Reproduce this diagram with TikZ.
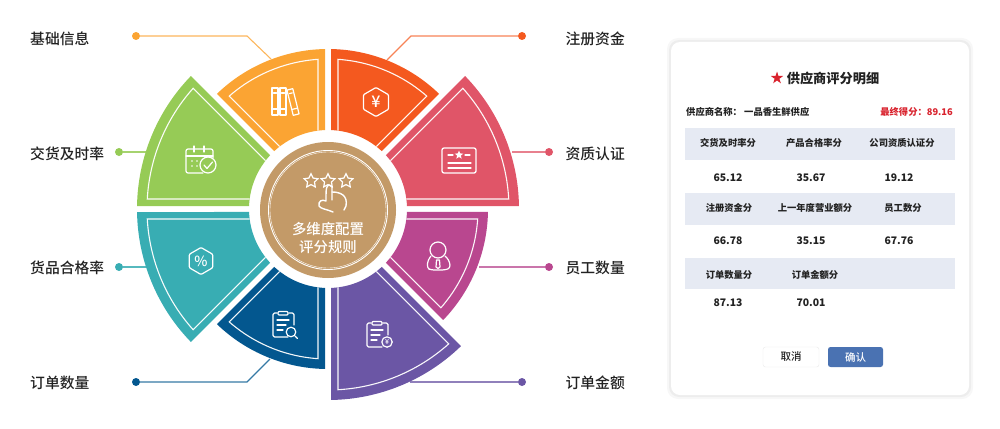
\documentclass[tikz,border=0pt]{standalone}
\usepackage{fontspec}
\setmainfont{Noto Sans CJK SC}
\newfontfamily\medfont{Noto Sans CJK SC Medium}
\usetikzlibrary{shapes.geometric}
\definecolor{cOrange}{HTML}{FBA433}
\definecolor{cFlame}{HTML}{F4591F}
\definecolor{cRed}{HTML}{E05568}
\definecolor{cMagenta}{HTML}{B9478F}
\definecolor{cPurple}{HTML}{6B56A5}
\definecolor{cNavy}{HTML}{03578F}
\definecolor{cTeal}{HTML}{38ADB3}
\definecolor{cGreen}{HTML}{96CB56}
\definecolor{cTan}{HTML}{C39A68}
\definecolor{cBand}{HTML}{E6EAF3}
\definecolor{cInk}{HTML}{222222}
\definecolor{cBtn}{HTML}{4A72B2}
\definecolor{cScore}{HTML}{D9232E}
\newcommand{\petal}[3]{%
 \begin{scope}[shift={(328,209)}]
 \pgfmathsetmacro\pTo{asin(3/#2)}
 \pgfmathsetmacro\pTi{asin(3/79)}
 \pgfmathsetmacro\pLo{asin(10/(#2-10))}
 \pgfmathsetmacro\pLi{asin(10/79)}
 \pgfmathsetmacro\pR{#2-10}
 \pgfmathsetmacro\pAa{#1+\pTo}\pgfmathsetmacro\pAb{#1+45-\pTo}
 \pgfmathsetmacro\pBa{#1+\pTi}\pgfmathsetmacro\pBb{#1+45-\pTi}
 \pgfmathsetmacro\pCa{#1+\pLo}\pgfmathsetmacro\pCb{#1+45-\pLo}
 \pgfmathsetmacro\pDa{#1+\pLi}\pgfmathsetmacro\pDb{#1+45-\pLi}
 \fill[#3] (\pAa:#2pt) arc[start angle=\pAa,end angle=\pAb,radius=#2pt] -- (\pBb:79pt) arc[start angle=\pBb,end angle=\pBa,radius=79pt] -- cycle;
 \draw[white!95!#3,line width=1.1pt] (\pDa:79pt) -- (\pCa:\pR pt) arc[start angle=\pCa,end angle=\pCb,radius=\pR pt] -- (\pDb:79pt);
 \end{scope}}
\tikzset{
 lbl/.style={font=\fontsize{14.8}{16}\selectfont\medfont,text=cInk,inner sep=0pt},
 dotnode/.style={circle,inner sep=0pt,minimum size=8pt},
 conn/.style={line width=1.1pt},
 icon/.style={draw=white,line width=1.2pt,line join=round,line cap=round},
 hd/.style={font=\fontsize{9.3}{11}\selectfont\bfseries,text=cInk,inner sep=0pt},
 val/.style={font=\fontsize{10.4}{12}\selectfont\bfseries,text=cInk,inner sep=0pt},
 band/.style={fill=cBand},
 hubtxt/.style={font=\fontsize{14.4}{16}\selectfont\medfont,text=white,inner sep=0pt},
 staro/.style={star,star points=5,star point ratio=2.0,draw=white,line width=1.2pt,inner sep=0pt,minimum size=#1},
 hexo/.style={regular polygon,regular polygon sides=6,shape border rotate=30,draw=white,line width=1.2pt,inner sep=0pt,rounded corners=1pt,minimum size=#1},
}
\begin{document}
\begin{tikzpicture}[x=1pt,y=-1pt]
\useasboundingbox (0,0) rectangle (1000,428);
% connectors
\node[dotnode,fill=cOrange] (d1) at (136,36) {};
\node[dotnode,fill=cFlame] (d2) at (522,36) {};
\node[dotnode,fill=cGreen] (d3) at (119,152) {};
\node[dotnode,fill=cRed] (d4) at (549,152) {};
\node[dotnode,fill=cTeal] (d5) at (119,267) {};
\node[dotnode,fill=cMagenta] (d6) at (549,267) {};
\node[dotnode,fill=cNavy] (d7) at (136,382) {};
\node[dotnode,fill=cPurple] (d8) at (522,382) {};
\coordinate (e1) at (247,36); \coordinate (t1) at (271,59);
\coordinate (e2) at (411,36); \coordinate (t2) at (387,60);
\coordinate (t3) at (147,152);
\coordinate (t4) at (512,152);
\coordinate (t5) at (147,267);
\coordinate (t6) at (479,267);
\coordinate (e7) at (247,382); \coordinate (t7) at (270,359);
\coordinate (t8) at (410,382);
\draw[conn,cOrange!80] (d1) -- (e1) -- (t1);
\draw[conn,cFlame!75] (d2) -- (e2) -- (t2);
\draw[conn,cGreen!85] (d3) -- (t3);
\draw[conn,cRed!75] (d4) -- (t4);
\draw[conn,cTeal!85] (d5) -- (t5);
\draw[conn,cMagenta!75] (d6) -- (t6);
\draw[conn,cNavy!80] (d7) -- (e7) -- (t7);
\draw[conn,cPurple!75] (d8) -- (t8);
% petals
\petal{90}{160}{cOrange}
\petal{45}{160}{cFlame}
\petal{0}{191}{cRed}
\petal{-45}{160}{cMagenta}
\petal{-90}{191}{cPurple}
\petal{-135}{160}{cNavy}
\petal{180}{191}{cTeal}
\petal{135}{191}{cGreen}
% hub
\node[circle,fill=cTan,minimum size=136pt,inner sep=0pt] (hub) at (328,210) {};
\draw[white,line width=.9pt] (hub.center) circle[radius=59.5pt];
\draw[white,line width=.4pt] (hub.center) circle[radius=58pt];
\node[hubtxt] (h1) at (328,229) {多维度配置};
\node[hubtxt] (h2) at (328,247) {评分规则};
\node[staro=14.5pt] (s1) at (311,181) {};
\node[staro=14.5pt] (s2) at (328,181) {};
\node[staro=14.5pt] (s3) at (346,181) {};
\draw[icon,line width=1.4pt,fill=cTan] (329,185) .. controls (326,186) and (326,189) .. (326,201) .. controls (322,199) and (318,201) .. (319,206) .. controls (321,209) and (326,209) .. (333,212);
\draw[icon,line width=1.4pt] (332,200) -- (332,187) .. controls (332,186) and (330,185) .. (329,185);
\draw[icon,line width=1.4pt] (332,192) .. controls (340,192) and (348,195) .. (346,206) -- (344,210);
% labels
\node[lbl,anchor=west] (l1) at (30,39) {基础信息};
\node[lbl,anchor=west] (l3) at (30,154) {交货及时率};
\node[lbl,anchor=west] (l5) at (30,268) {货品合格率};
\node[lbl,anchor=west] (l7) at (30,383) {订单数量};
\node[lbl,anchor=east] (l2) at (625,39) {注册资金};
\node[lbl,anchor=east] (l4) at (625,154) {资质认证};
\node[lbl,anchor=east] (l6) at (625,268) {员工数量};
\node[lbl,anchor=east] (l8) at (625,383) {订单金额};
% books
\draw[icon] (272,88) rectangle (278,115); \draw[icon] (272,109) -- (278,109); \draw[icon] (273.5,93) -- (276.5,93);
\draw[icon] (280,88) rectangle (286,115); \draw[icon] (280,109) -- (286,109); \draw[icon] (281.5,93) -- (284.5,93);
\begin{scope}[rotate around={14:(293,102)}]
\draw[icon] (290,89) rectangle (296,115); \draw[icon] (290,109) -- (296,109); \draw[icon] (291.5,93) -- (294.5,93);
\end{scope}
% yuan
\node[hexo=29pt] (yh) at (376,102) {};
\node[text=white,inner sep=0pt,font=\fontsize{16}{16}\selectfont\medfont] (yy) at (376,102) {¥};
% calendar
\draw[icon,rounded corners=2pt] (203,173) -- (186,173) -- (186,149) -- (213,149) -- (213,158);
\draw[icon] (186,156) -- (213,156);
\draw[icon] (194,146) -- (194,152); \draw[icon] (204,146) -- (204,152);
\fill[white] (192,161) circle[radius=.9pt] (197,161) circle[radius=.9pt] (202,161) circle[radius=.9pt] (192,166) circle[radius=.9pt] (197,166) circle[radius=.9pt];
\draw[icon,fill=cGreen] (208,165) circle[radius=8pt];
\draw[icon] (204,165) -- (207,168.5) -- (212.5,162);
% card
\draw[icon,line width=1.3pt,rounded corners=2pt] (442,148) rectangle (476,173);
\node[star,star points=5,star point ratio=2.3,fill=white,inner sep=0pt,minimum size=9pt] (rs) at (459,155) {};
\draw[icon] (448,155) -- (453,155); \draw[icon] (465,155) -- (470,155);
\draw[icon] (448,163) -- (471,163); \draw[icon] (448,168) -- (471,168);
% percent
\node[hexo=27pt] (ph) at (201,261) {};
\node[text=white,inner sep=0pt,font=\fontsize{14}{14}\selectfont\medfont] (pc) at (201,261) {\%};
% navy clipboard
\draw[icon,rounded corners=1.5pt] (277,313) -- (273,313) -- (273,337) -- (288,337);
\draw[icon,rounded corners=1.5pt] (289,313) -- (294,313) -- (294,325);
\draw[icon,rounded corners=1pt] (278,315) -- (278,311.5) -- (288,311.5) -- (288,315) -- cycle;
\draw[icon] (277,320) -- (289,320); \draw[icon] (277,325) -- (286,325); \draw[icon] (277,330) -- (283,330);
\draw[icon,fill=cNavy] (291,332) circle[radius=4.8pt];
\draw[icon] (295,336) -- (297.5,338.5);
% person
\draw[icon] (438,250) circle[radius=8pt];
\draw[icon,rounded corners=3pt] (431,256) -- (428,260) -- (427,268) -- (431,270) -- (445,270) -- (450.5,268) -- (449,260) -- (445,256);
\draw[icon] (436.5,260) -- (439.5,260) -- (440,267) -- (438,268.5) -- (436,267) -- cycle;
% purple clipboard
\draw[icon,rounded corners=1.5pt] (371,323) -- (367,323) -- (367,347) -- (382,347);
\draw[icon,rounded corners=1.5pt] (383,323) -- (388,323) -- (388,335);
\draw[icon,rounded corners=1pt] (372,325) -- (372,321.5) -- (382,321.5) -- (382,325) -- cycle;
\draw[icon] (371,330) -- (383,330); \draw[icon] (371,335) -- (380,335); \draw[icon] (371,340) -- (377,340);
\draw[icon,fill=cPurple] (387,342) circle[radius=5.2pt];
\node[text=white,inner sep=0pt,font=\fontsize{7}{7}\selectfont\medfont] (py) at (387,342) {¥};
% panel
\fill[black,opacity=.03,rounded corners=11pt] (667,38) rectangle (973,399);
\fill[black,opacity=.04,rounded corners=10pt] (669,40) rectangle (971,397);
\fill[white,rounded corners=9pt] (671,42) rectangle (969,395);
\node[star,star points=5,star point ratio=2.6,fill=cScore,inner sep=0pt,minimum size=13pt] (ts) at (777,78) {};
\node[inner sep=0pt,text=cInk,font=\fontsize{13.2}{15}\selectfont\bfseries] (title) at (833,78) {供应商评分明细};
\node[hd,anchor=west] (sn) at (686,112) {供应商名称：};
\node[hd,anchor=west] (sv) at (744,112) {一品香生鲜供应};
\node[hd,anchor=east,text=cScore] (fs) at (953,112) {最终得分：89.16};
\fill[band] (685,128) rectangle (954.5,160);
\fill[band] (685,193) rectangle (954.5,225);
\fill[band] (685,258) rectangle (954.5,289);
\node[hd] (a1) at (728,143) {交货及时率分};
\node[hd] (a2) at (814,143) {产品合格率分};
\node[hd] (a3) at (902,143) {公司资质认证分};
\node[val] (v1) at (728,178) {65.12};
\node[val] (v2) at (811,178) {35.67};
\node[val] (v3) at (899,178) {19.12};
\node[hd] (b1) at (729,208) {注册资金分};
\node[hd] (b2) at (815,208) {上一年度营业额分};
\node[hd] (b3) at (903,208) {员工数分};
\node[val] (w1) at (728,241) {66.78};
\node[val] (w2) at (811,241) {35.15};
\node[val] (w3) at (899,241) {67.76};
\node[hd] (c1) at (729,275) {订单数量分};
\node[hd] (c2) at (815,275) {订单金额分};
\node[val] (x1) at (728,303) {87.13};
\node[val] (x2) at (811,303) {70.01};
\node[draw=black!8,fill=white,rounded corners=2.5pt,minimum width=56pt,minimum height=20pt,inner sep=0pt,text=cInk,font=\fontsize{10.5}{12}\selectfont\medfont] (bc) at (791,357) {取消};
\node[fill=cBtn,rounded corners=2.5pt,minimum width=55pt,minimum height=20pt,inner sep=0pt,text=white,font=\fontsize{10.5}{12}\selectfont\medfont] (bo) at (855.5,357) {确认};
\end{tikzpicture}
\end{document}
